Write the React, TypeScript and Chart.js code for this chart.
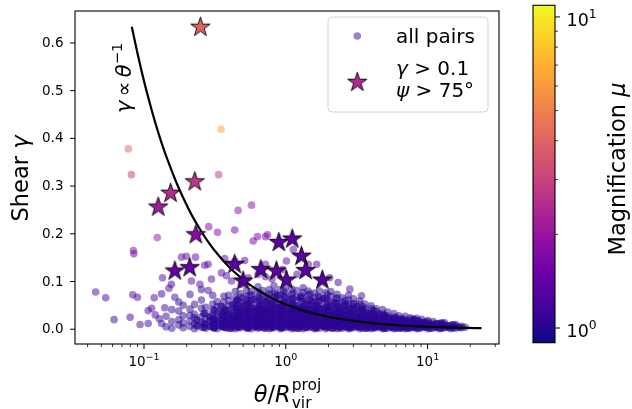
import React, { useEffect, useRef } from 'react';
import { Chart, registerables } from 'chart.js';

Chart.register(...registerables);

// ---------------- axis ranges & ticks ----------------
const X_MIN = 0.0326;
const X_MAX = 31.9;
const Y_MIN = -0.031;
const Y_MAX = 0.667;
const X_MAJOR = [0.1, 1, 10];
const X_MAJOR_EXP = ['−1', '0', '1'];
const X_MINOR = [0.04, 0.05, 0.06, 0.07, 0.08, 0.09, 0.2, 0.3, 0.4, 0.5, 0.6, 0.7, 0.8, 0.9, 2, 3, 4, 5, 6, 7, 8, 9, 20, 30];
const Y_TICKS = [0, 0.1, 0.2, 0.3, 0.4, 0.5, 0.6];
const Y_TICK_LABELS = ['0.0', '0.1', '0.2', '0.3', '0.4', '0.5', '0.6'];
const MU_MIN = 0.897;
const MU_MAX = 10.9;
const CB_MAJOR = [1, 10];
const CB_MAJOR_EXP = ['0', '1'];
const CB_MINOR = [2, 3, 4, 5, 6, 7, 8, 9];

// ---------------- data ----------------
// selected pairs (stars): theta/Rvir, shear, magnification
const STAR_THETA = [0.25, 0.126, 0.154, 0.228, 0.232, 0.165, 0.21, 0.436, 0.5, 0.667, 0.859, 0.893, 1.11, 1.01, 1.29, 1.38, 1.81];
const STAR_SHEAR = [0.633, 0.256, 0.285, 0.309, 0.198, 0.122, 0.129, 0.136, 0.101, 0.125, 0.122, 0.182, 0.189, 0.103, 0.153, 0.123, 0.103];
const STAR_MU = [4.0, 2.15, 2.45, 2.75, 1.8, 1.45, 1.45, 1.35, 1.3, 1.35, 1.35, 1.35, 1.35, 1.3, 1.35, 1.35, 1.3];

// gamma ∝ theta^-1 guide line
const LINE_THETA = [0.082, 0.09, 0.1, 0.11, 0.12, 0.135, 0.15, 0.17, 0.19, 0.22, 0.25, 0.29, 0.34, 0.4, 0.47, 0.55, 0.65, 0.78, 0.93, 1.1, 1.35, 1.65, 2.0, 2.5, 3.2, 4.2, 5.5, 7.5, 10, 14, 19, 24];
const LINE_SHEAR = [0.634, 0.578, 0.52, 0.473, 0.433, 0.385, 0.347, 0.306, 0.274, 0.236, 0.208, 0.179, 0.153, 0.13, 0.111, 0.0945, 0.08, 0.0667, 0.0559, 0.0473, 0.0385, 0.0315, 0.026, 0.0208, 0.0163, 0.0124, 0.0095, 0.0069, 0.0052, 0.0037, 0.0027, 0.0022];

// dense cloud of all pairs (columns in theta, shear values per column)
const CLOUD_MU = 1.04;
const CLOUD_THETA = [0.143, 0.157, 0.176, 0.189, 0.211, 0.227, 0.254, 0.272, 0.305, 0.328, 0.366, 0.395, 0.44, 0.476, 0.529, 0.571, 0.636, 0.688, 0.764, 0.826, 0.918, 0.994, 1.103, 1.195, 1.326, 1.437, 1.594, 1.729, 1.916, 2.079, 2.303, 2.5, 2.768, 3.005, 3.328, 3.613, 4.001, 4.343, 4.81, 5.222, 5.783, 6.279, 6.952, 7.548, 8.36, 9.074, 10.05, 10.91, 12.08, 13.11, 14.52, 15.77, 17.4, 18.4];
const CLOUD_SHEAR = [
  [0.005, 0.027],
  [0.002, 0.016, 0.041],
  [0.009, 0.02, 0.038, 0.057],
  [0.003, 0.013, 0.028, 0.05],
  [0.006, 0.017, 0.029, 0.042, 0.073],
  [0.001, 0.011, 0.024, 0.031, 0.052],
  [0.004, 0.015, 0.026, 0.044, 0.061, 0.083],
  [0.002, 0.009, 0.021, 0.033, 0.046],
  [0.005, 0.012, 0.023, 0.029, 0.041, 0.053, 0.071],
  [0.001, 0.008, 0.017, 0.026, 0.035, 0.047, 0.058],
  [0.004, 0.011, 0.017, 0.028, 0.037, 0.044, 0.057, 0.069],
  [0.002, 0.007, 0.015, 0.023, 0.031, 0.039, 0.049, 0.06, 0.071],
  [0.001, 0.008, 0.013, 0.022, 0.028, 0.038, 0.046, 0.053, 0.065, 0.079],
  [0.003, 0.01, 0.016, 0.024, 0.031, 0.037, 0.047, 0.057, 0.067, 0.075],
  [0.002, 0.006, 0.014, 0.019, 0.028, 0.035, 0.041, 0.051, 0.061, 0.069, 0.081],
  [0.001, 0.009, 0.015, 0.023, 0.03, 0.037, 0.045, 0.053, 0.06, 0.072, 0.079],
  [0.002, 0.006, 0.013, 0.018, 0.027, 0.033, 0.042, 0.048, 0.059, 0.066, 0.078, 0.089],
  [0.004, 0.009, 0.016, 0.023, 0.028, 0.037, 0.043, 0.053, 0.061, 0.069, 0.081],
  [0.001, 0.007, 0.012, 0.019, 0.025, 0.031, 0.04, 0.046, 0.056, 0.063, 0.074, 0.083],
  [0.003, 0.008, 0.015, 0.021, 0.029, 0.035, 0.043, 0.051, 0.057, 0.068, 0.077, 0.091],
  [0.001, 0.005, 0.013, 0.018, 0.025, 0.032, 0.037, 0.047, 0.053, 0.064, 0.071, 0.083],
  [0.003, 0.009, 0.014, 0.021, 0.026, 0.035, 0.04, 0.05, 0.056, 0.067, 0.075, 0.088],
  [0.001, 0.006, 0.011, 0.019, 0.024, 0.033, 0.038, 0.048, 0.054, 0.065, 0.072, 0.084],
  [0.002, 0.008, 0.015, 0.02, 0.028, 0.034, 0.043, 0.049, 0.06, 0.067, 0.081],
  [0.001, 0.005, 0.012, 0.017, 0.026, 0.031, 0.041, 0.047, 0.058, 0.065, 0.077, 0.087],
  [0.003, 0.008, 0.014, 0.022, 0.027, 0.036, 0.042, 0.052, 0.059, 0.071, 0.08],
  [0.001, 0.007, 0.011, 0.019, 0.024, 0.033, 0.039, 0.049, 0.056, 0.067, 0.076],
  [0.002, 0.009, 0.013, 0.021, 0.028, 0.033, 0.043, 0.049, 0.06, 0.067, 0.08],
  [0.001, 0.005, 0.012, 0.017, 0.026, 0.031, 0.041, 0.047, 0.057, 0.065, 0.077],
  [0.003, 0.008, 0.015, 0.019, 0.028, 0.035, 0.04, 0.05, 0.057, 0.069, 0.079],
  [0.001, 0.006, 0.011, 0.019, 0.023, 0.032, 0.037, 0.047, 0.054, 0.065, 0.073],
  [0.002, 0.008, 0.012, 0.02, 0.025, 0.034, 0.039, 0.049, 0.056, 0.066],
  [0.001, 0.005, 0.013, 0.017, 0.025, 0.029, 0.038, 0.044, 0.054, 0.061, 0.071],
  [0.003, 0.007, 0.011, 0.019, 0.023, 0.032, 0.037, 0.047, 0.054, 0.064],
  [0.001, 0.006, 0.01, 0.016, 0.024, 0.028, 0.037, 0.042, 0.052, 0.059],
  [0.002, 0.008, 0.013, 0.017, 0.025, 0.029, 0.038, 0.044, 0.053],
  [0.001, 0.005, 0.01, 0.017, 0.021, 0.029, 0.034, 0.043, 0.049],
  [0.003, 0.007, 0.013, 0.016, 0.024, 0.028, 0.037, 0.043],
  [0.001, 0.005, 0.01, 0.017, 0.02, 0.028, 0.032, 0.041],
  [0.002, 0.007, 0.012, 0.015, 0.023, 0.027, 0.036],
  [0.001, 0.004, 0.011, 0.014, 0.021, 0.025, 0.033],
  [0.003, 0.007, 0.01, 0.017, 0.02, 0.028],
  [0.001, 0.005, 0.009, 0.016, 0.019, 0.027],
  [0.002, 0.007, 0.011, 0.014, 0.021, 0.024],
  [0.001, 0.004, 0.01, 0.013, 0.018, 0.023],
  [0.003, 0.006, 0.011, 0.014, 0.021],
  [0.001, 0.005, 0.008, 0.015, 0.018],
  [0.002, 0.007, 0.01, 0.016],
  [0.001, 0.004, 0.009, 0.012],
  [0.003, 0.006, 0.011, 0.014],
  [0.001, 0.005, 0.008],
  [0.002, 0.007, 0.01],
  [0.003, 0.006],
  [0.004],
];

// denser core (interleaved columns)
const CORE_THETA = [0.236, 0.265, 0.291, 0.314, 0.35, 0.377, 0.42, 0.455, 0.505, 0.546, 0.607, 0.657, 0.728, 0.789, 0.876, 0.95, 1.053, 1.142, 1.266, 1.372, 1.522, 1.651, 1.831, 1.985, 2.199, 2.387, 2.642, 2.871, 3.176, 3.45, 3.82, 4.15, 4.59, 4.99, 5.52, 6.0, 6.63, 7.21, 7.97, 8.67, 9.58, 10.43, 11.52, 12.53, 13.85, 15.07, 16.7];
const CORE_SHEAR = [
  [0.007, 0.019],
  [0.004, 0.012, 0.033],
  [0.006, 0.018, 0.026],
  [0.003, 0.015, 0.022, 0.039],
  [0.006, 0.011, 0.021, 0.034, 0.048],
  [0.003, 0.014, 0.019, 0.03, 0.04],
  [0.005, 0.01, 0.02, 0.027, 0.036, 0.051],
  [0.004, 0.012, 0.02, 0.025, 0.034, 0.043, 0.061],
  [0.006, 0.011, 0.02, 0.026, 0.036, 0.049],
  [0.003, 0.011, 0.018, 0.024, 0.033, 0.04, 0.055],
  [0.005, 0.01, 0.019, 0.025, 0.035, 0.044, 0.063],
  [0.004, 0.012, 0.017, 0.026, 0.031, 0.041, 0.05],
  [0.005, 0.01, 0.019, 0.024, 0.034, 0.042, 0.058],
  [0.003, 0.011, 0.016, 0.025, 0.031, 0.04, 0.052],
  [0.006, 0.01, 0.019, 0.027, 0.033, 0.045, 0.07],
  [0.004, 0.012, 0.016, 0.023, 0.032, 0.039, 0.054],
  [0.005, 0.01, 0.019, 0.026, 0.034, 0.044, 0.061],
  [0.003, 0.011, 0.016, 0.025, 0.031, 0.042, 0.05],
  [0.006, 0.01, 0.019, 0.024, 0.034, 0.045, 0.067],
  [0.004, 0.012, 0.016, 0.025, 0.031, 0.04, 0.053],
  [0.005, 0.01, 0.019, 0.026, 0.034, 0.044, 0.059],
  [0.003, 0.011, 0.016, 0.023, 0.032, 0.039, 0.051],
  [0.006, 0.01, 0.019, 0.024, 0.034, 0.043, 0.064],
  [0.004, 0.009, 0.017, 0.022, 0.029, 0.039, 0.047],
  [0.005, 0.011, 0.016, 0.025, 0.031, 0.042, 0.055],
  [0.003, 0.009, 0.017, 0.021, 0.03, 0.036, 0.045],
  [0.005, 0.008, 0.016, 0.022, 0.027, 0.037, 0.051],
  [0.003, 0.01, 0.014, 0.02, 0.028, 0.033, 0.042],
  [0.005, 0.008, 0.015, 0.021, 0.025, 0.034, 0.047],
  [0.003, 0.01, 0.013, 0.019, 0.027, 0.032, 0.041],
  [0.005, 0.008, 0.015, 0.018, 0.026, 0.033],
  [0.003, 0.01, 0.013, 0.02, 0.024, 0.031, 0.039],
  [0.005, 0.007, 0.014, 0.019, 0.025, 0.031],
  [0.002, 0.009, 0.012, 0.018, 0.024, 0.029],
  [0.004, 0.008, 0.014, 0.019, 0.023],
  [0.002, 0.009, 0.013, 0.016, 0.024],
  [0.004, 0.007, 0.012, 0.018, 0.022],
  [0.002, 0.008, 0.013, 0.016],
  [0.004, 0.006, 0.012, 0.018, 0.021],
  [0.002, 0.008, 0.011, 0.017],
  [0.004, 0.006, 0.012, 0.015],
  [0.002, 0.008, 0.011],
  [0.004, 0.006, 0.012],
  [0.002, 0.009, 0.013],
  [0.004, 0.007],
  [0.003, 0.009],
  [0.004],
];

// darkest base layer close to zero shear
const BASE_THETA = [0.31, 0.36, 0.41, 0.47, 0.54, 0.62, 0.71, 0.81, 0.93, 1.07, 1.23, 1.41, 1.62, 1.86, 2.14, 2.45, 2.82, 3.24, 3.72, 4.27, 4.9, 5.6, 6.45, 7.4];
const BASE_SHEAR = [
  [0.003, 0.014],
  [0.006, 0.02, 0.03],
  [0.002, 0.012, 0.025],
  [0.005, 0.017, 0.028, 0.036],
  [0.003, 0.01, 0.022, 0.033],
  [0.006, 0.015, 0.026, 0.038],
  [0.002, 0.012, 0.021, 0.031, 0.042],
  [0.005, 0.016, 0.027, 0.036],
  [0.003, 0.01, 0.021, 0.03, 0.044],
  [0.006, 0.015, 0.025, 0.036],
  [0.002, 0.012, 0.02, 0.031, 0.041],
  [0.005, 0.016, 0.026, 0.035],
  [0.003, 0.01, 0.021, 0.029, 0.04],
  [0.006, 0.014, 0.024, 0.033],
  [0.002, 0.011, 0.019, 0.029],
  [0.005, 0.015, 0.022, 0.031],
  [0.003, 0.01, 0.018, 0.027],
  [0.006, 0.013, 0.021],
  [0.002, 0.01, 0.017, 0.026],
  [0.005, 0.012, 0.019],
  [0.003, 0.009, 0.016],
  [0.005, 0.011, 0.017],
  [0.002, 0.008, 0.014],
  [0.004, 0.01],
];

// middle band of the cloud (shear 0.04-0.08)
const MID_THETA = [0.45, 0.5, 0.56, 0.66, 0.74, 0.84, 0.97, 1.12, 1.29, 1.48, 1.7, 1.96, 2.27, 2.6, 3.0, 3.5];
const MID_SHEAR = [
  [0.048, 0.06],
  [0.042, 0.055, 0.066],
  [0.045, 0.058, 0.07],
  [0.04, 0.052, 0.064, 0.075],
  [0.046, 0.058, 0.07],
  [0.04, 0.052, 0.063, 0.075],
  [0.045, 0.058, 0.07, 0.08],
  [0.041, 0.053, 0.064, 0.076],
  [0.046, 0.058, 0.07],
  [0.04, 0.051, 0.063, 0.074],
  [0.045, 0.057, 0.068],
  [0.04, 0.051, 0.062, 0.072],
  [0.043, 0.055, 0.065],
  [0.038, 0.049, 0.06],
  [0.042, 0.052],
  [0.037, 0.047],
];

// isolated pairs: [theta, shear, mu]
const SPARSE_PAIRS: [number, number, number][] = [
  [0.0456, 0.078, 1.2], [0.0537, 0.066, 1.2], [0.0615, 0.02, 1.15], [0.0798, 0.025, 1.15],
  [0.0832, 0.072, 1.2], [0.0898, 0.067, 1.2], [0.0842, 0.165, 1.7], [0.0848, 0.158, 1.5],
  [0.0938, 0.01, 1.15], [0.107, 0.012, 1.15], [0.107, 0.039, 1.2], [0.113, 0.044, 1.2],
  [0.118, 0.066, 1.2], [0.12, 0.03, 1.15], [0.128, 0.022, 1.15], [0.14, 0.045, 1.2],
  [0.124, 0.192, 1.9], [0.133, 0.074, 1.2], [0.133, 0.012, 1.1], [0.135, 0.108, 1.3],
  [0.15, 0.086, 1.2], [0.156, 0.094, 1.2], [0.165, 0.067, 1.2], [0.184, 0.151, 1.4],
  [0.199, 0.153, 1.4], [0.216, 0.101, 1.3], [0.231, 0.151, 1.4], [0.248, 0.094, 1.3],
  [0.268, 0.134, 1.4], [0.283, 0.136, 1.4], [0.284, 0.081, 1.25], [0.286, 0.215, 1.7],
  [0.299, 0.105, 1.3], [0.33, 0.203, 1.7], [0.352, 0.118, 1.3], [0.371, 0.148, 1.4],
  [0.381, 0.112, 1.3], [0.414, 0.101, 1.3], [0.437, 0.143, 1.4], [0.436, 0.208, 1.6],
  [0.461, 0.249, 1.8], [0.487, 0.094, 1.25], [0.513, 0.144, 1.4], [0.543, 0.108, 1.3],
  [0.573, 0.26, 1.8], [0.589, 0.185, 1.6], [0.631, 0.194, 1.6], [0.639, 0.115, 1.3],
  [0.72, 0.136, 1.3], [0.72, 0.11, 1.3], [0.72, 0.194, 1.6], [0.743, 0.198, 1.6],
  [0.8, 0.105, 1.3], [0.95, 0.125, 1.3], [1.01, 0.143, 1.3], [1.13, 0.167, 1.4],
  [1.2, 0.115, 1.3], [1.44, 0.136, 1.3], [1.65, 0.136, 1.3], [2.04, 0.108, 1.3],
  [2.34, 0.098, 1.2], [2.83, 0.084, 1.2], [3.42, 0.07, 1.2],
  [0.0776, 0.378, 4.0], [0.0815, 0.324, 2.8], [0.35, 0.419, 6.3], [0.336, 0.324, 2.6],
];

// marker opacity per layer
const ALPHA_OUTER = 0.5;
const ALPHA_INNER = 0.72;

// ---------------- colour map ----------------
const PLASMA = ['#0d0887', '#41049d', '#6a00a8', '#8f0da4', '#b12a90', '#cc4778', '#e16462', '#f2844b', '#fca636', '#fcce25', '#f0f921'];

function hexRGB(h: string) {
  return [parseInt(h.slice(1, 3), 16), parseInt(h.slice(3, 5), 16), parseInt(h.slice(5, 7), 16)];
}
function plasma(t: number, alpha = 1) {
  const tt = Math.max(0, Math.min(1, t)) * (PLASMA.length - 1);
  const i = Math.min(PLASMA.length - 2, Math.floor(tt));
  const f = tt - i;
  const a = hexRGB(PLASMA[i]);
  const b = hexRGB(PLASMA[i + 1]);
  const c = a.map((v, k) => Math.round(v + (b[k] - v) * f));
  return `rgba(${c[0]},${c[1]},${c[2]},${alpha})`;
}
function muColor(mu: number, alpha = 1) {
  const t = (Math.log10(mu) - Math.log10(MU_MIN)) / (Math.log10(MU_MAX) - Math.log10(MU_MIN));
  return plasma(t, alpha);
}

function makeStar(fill: string, R = 10.2) {
  const size = Math.ceil(R * 2 + 4);
  const c = document.createElement('canvas');
  c.width = size;
  c.height = size;
  const g = c.getContext('2d')!;
  const cx = size / 2;
  const cy = size / 2;
  g.beginPath();
  for (let i = 0; i < 10; i++) {
    const r = i % 2 === 0 ? R : R * 0.381966;
    const a = -Math.PI / 2 + (i * Math.PI) / 5;
    const px = cx + r * Math.cos(a);
    const py = cy + r * Math.sin(a);
    if (i === 0) g.moveTo(px, py);
    else g.lineTo(px, py);
  }
  g.closePath();
  g.fillStyle = fill;
  g.fill();
  g.lineWidth = 0.9;
  g.strokeStyle = '#000';
  g.stroke();
  return c;
}

// ---------------- text helpers ----------------
type Part = { t: string; size: number; italic?: boolean; dy?: number };
const FAMILY = "'DejaVu Sans', sans-serif";
function fontOf(p: Part) {
  return `${p.italic ? 'italic ' : ''}${p.size}px ${FAMILY}`;
}
function partsWidth(ctx: CanvasRenderingContext2D, parts: Part[]) {
  let w = 0;
  for (const p of parts) {
    ctx.font = fontOf(p);
    w += ctx.measureText(p.t).width;
  }
  return w;
}
function drawParts(ctx: CanvasRenderingContext2D, parts: Part[], x: number, y: number) {
  let cx = x;
  for (const p of parts) {
    ctx.font = fontOf(p);
    ctx.fillText(p.t, cx, y + (p.dy || 0));
    cx += ctx.measureText(p.t).width;
  }
  return cx;
}

export default function App() {
  const mainRef = useRef<HTMLCanvasElement>(null);
  const cbRef = useRef<HTMLCanvasElement>(null);

  useEffect(() => {
    const dots: { x: number; y: number }[] = [];
    const dotColors: string[] = [];
    const addColumns = (thetas: number[], shears: number[][], alpha: number) => {
      thetas.forEach((t, i) => {
        shears[i].forEach((g) => {
          dots.push({ x: t, y: g });
          dotColors.push(muColor(CLOUD_MU, alpha));
        });
      });
    };
    addColumns(CLOUD_THETA, CLOUD_SHEAR, ALPHA_OUTER);
    addColumns(CORE_THETA, CORE_SHEAR, ALPHA_INNER);
    addColumns(BASE_THETA, BASE_SHEAR, ALPHA_INNER);
    addColumns(MID_THETA, MID_SHEAR, ALPHA_OUTER);
    SPARSE_PAIRS.forEach(([t, g, mu]) => {
      dots.push({ x: t, y: g });
      dotColors.push(muColor(mu, ALPHA_OUTER));
    });

    const starImgs = STAR_MU.map((mu) => makeStar(muColor(mu, 1)));
    const legendStar = makeStar(plasma(0.4, 1));

    const mainPlugin = {
      id: 'mainDecor',
      afterDraw(chart: any) {
        const ctx: CanvasRenderingContext2D = chart.ctx;
        const a = chart.chartArea;
        const xs = chart.scales.x;
        const ys = chart.scales.y;
        ctx.save();
        ctx.fillStyle = '#000';
        ctx.strokeStyle = '#000';
        // frame
        ctx.lineWidth = 1.1;
        ctx.strokeRect(a.left, a.top, a.right - a.left, a.bottom - a.top);
        // x ticks
        ctx.lineWidth = 1;
        X_MAJOR.forEach((v) => {
          const px = xs.getPixelForValue(v);
          ctx.beginPath();
          ctx.moveTo(px, a.bottom);
          ctx.lineTo(px, a.bottom + 5);
          ctx.stroke();
        });
        ctx.lineWidth = 0.8;
        X_MINOR.forEach((v) => {
          const px = xs.getPixelForValue(v);
          ctx.beginPath();
          ctx.moveTo(px, a.bottom);
          ctx.lineTo(px, a.bottom + 3);
          ctx.stroke();
        });
        // x tick labels
        ctx.textBaseline = 'alphabetic';
        ctx.textAlign = 'left';
        X_MAJOR.forEach((v, i) => {
          const px = xs.getPixelForValue(v);
          const parts: Part[] = [
            { t: '10', size: 13.5 },
            { t: X_MAJOR_EXP[i], size: 9.5, dy: -6.5 },
          ];
          const w = partsWidth(ctx, parts);
          drawParts(ctx, parts, px - w / 2, a.bottom + 22);
        });
        // y ticks
        ctx.lineWidth = 1;
        Y_TICKS.forEach((v, i) => {
          const py = ys.getPixelForValue(v);
          ctx.beginPath();
          ctx.moveTo(a.left, py);
          ctx.lineTo(a.left - 5, py);
          ctx.stroke();
          ctx.font = `13.5px ${FAMILY}`;
          ctx.textAlign = 'right';
          ctx.textBaseline = 'middle';
          ctx.fillText(Y_TICK_LABELS[i], a.left - 11.5, py + 0.5);
        });
        ctx.textAlign = 'left';
        ctx.textBaseline = 'alphabetic';

        // y axis title
        {
          const parts: Part[] = [
            { t: 'Shear ', size: 22.5 },
            { t: 'γ', size: 22.5, italic: true },
          ];
          const w = partsWidth(ctx, parts);
          ctx.save();
          ctx.translate(28, (a.top + a.bottom) / 2 + 1);
          ctx.rotate(-Math.PI / 2);
          drawParts(ctx, parts, -w / 2, 0);
          ctx.restore();
        }
        // x axis title θ/R_vir^proj
        {
          const main: Part[] = [
            { t: 'θ', size: 22.5, italic: true },
            { t: '/', size: 22.5 },
            { t: 'R', size: 22.5, italic: true },
          ];
          const sup: Part = { t: 'proj', size: 15.5 };
          const sub: Part = { t: 'vir', size: 15.5 };
          const wm = partsWidth(ctx, main);
          const ws = Math.max(partsWidth(ctx, [sup]), partsWidth(ctx, [sub]));
          const cx = (a.left + a.right) / 2;
          const x0 = cx - (wm + ws) / 2;
          const base = 402;
          const xe = drawParts(ctx, main, x0, base);
          ctx.font = fontOf(sup);
          ctx.fillText(sup.t, xe + 1, base - 12);
          ctx.font = fontOf(sub);
          ctx.fillText(sub.t, xe + 1, base + 6);
        }
        // rotated annotation γ ∝ θ^-1
        {
          const parts: Part[] = [
            { t: 'γ', size: 21, italic: true },
            { t: '\u2009∝\u2009', size: 21 },
            { t: 'θ', size: 21, italic: true },
            { t: '−1', size: 14.7, dy: -9 },
          ];
          ctx.save();
          ctx.translate(131, 113);
          ctx.rotate(-Math.PI / 2);
          drawParts(ctx, parts, 0, 0);
          ctx.restore();
        }
        // legend
        {
          const lx = 328, ly = 17, lw = 160, lh = 95, r = 4;
          ctx.beginPath();
          ctx.moveTo(lx + r, ly);
          ctx.lineTo(lx + lw - r, ly);
          ctx.quadraticCurveTo(lx + lw, ly, lx + lw, ly + r);
          ctx.lineTo(lx + lw, ly + lh - r);
          ctx.quadraticCurveTo(lx + lw, ly + lh, lx + lw - r, ly + lh);
          ctx.lineTo(lx + r, ly + lh);
          ctx.quadraticCurveTo(lx, ly + lh, lx, ly + lh - r);
          ctx.lineTo(lx, ly + r);
          ctx.quadraticCurveTo(lx, ly, lx + r, ly);
          ctx.closePath();
          ctx.fillStyle = 'rgba(255,255,255,0.8)';
          ctx.fill();
          ctx.strokeStyle = '#d4d4d4';
          ctx.lineWidth = 1;
          ctx.stroke();
          // dot
          ctx.beginPath();
          ctx.arc(357.3, 36, 3.8, 0, Math.PI * 2);
          ctx.fillStyle = muColor(1.12, 0.5);
          ctx.fill();
          ctx.fillStyle = '#000';
          ctx.font = `20px ${FAMILY}`;
          ctx.fillText('all pairs', 396, 42.5);
          // star
          ctx.drawImage(legendStar, 357.3 - legendStar.width / 2, 82.3 - legendStar.height / 2);
          drawParts(ctx, [
            { t: 'γ', size: 20, italic: true },
            { t: ' > 0.1', size: 20 },
          ], 396, 74.5);
          drawParts(ctx, [
            { t: 'ψ', size: 20, italic: true },
            { t: ' > 75°', size: 20 },
          ], 396, 97);
        }
        ctx.restore();
      },
    };

    const main = new Chart(mainRef.current!, {
      type: 'scatter',
      data: {
        datasets: [
          {
            label: 'stars',
            data: STAR_THETA.map((t, i) => ({ x: t, y: STAR_SHEAR[i] })),
            pointStyle: starImgs as any,
            pointRadius: 10,
            order: 0,
          } as any,
          {
            type: 'line',
            label: 'guide',
            data: LINE_THETA.map((t, i) => ({ x: t, y: LINE_SHEAR[i] })),
            borderColor: '#000',
            borderWidth: 2.2,
            pointRadius: 0,
            showLine: true,
            fill: false,
            cubicInterpolationMode: 'monotone',
            order: 1,
          } as any,
          {
            label: 'all pairs',
            data: dots,
            backgroundColor: dotColors,
            borderWidth: 0,
            pointRadius: 3.8,
            order: 2,
          } as any,
        ],
      },
      options: {
        animation: false,
        responsive: false,
        devicePixelRatio: 1,
        events: [],
        layout: { padding: { left: 75, right: 133, top: 6, bottom: 65 } },
        plugins: { legend: { display: false }, tooltip: { enabled: false } },
        scales: {
          x: {
            type: 'logarithmic',
            min: X_MIN,
            max: X_MAX,
            bounds: 'data',
            ticks: { display: false },
            grid: { display: false, drawTicks: false },
            border: { display: false },
            afterFit: (s: any) => {
              s.height = 0;
            },
          },
          y: {
            type: 'linear',
            min: Y_MIN,
            max: Y_MAX,
            bounds: 'data',
            ticks: { display: false },
            grid: { display: false, drawTicks: false },
            border: { display: false },
            afterFit: (s: any) => {
              s.width = 0;
            },
          },
        },
      } as any,
      plugins: [mainPlugin],
    });

    const cbPlugin = {
      id: 'cbDecor',
      afterDraw(chart: any) {
        const ctx: CanvasRenderingContext2D = chart.ctx;
        const a = chart.chartArea;
        const ys = chart.scales.y;
        ctx.save();
        ctx.strokeStyle = '#000';
        ctx.fillStyle = '#000';
        ctx.lineWidth = 1.1;
        ctx.strokeRect(a.left, a.top, a.right - a.left, a.bottom - a.top);
        ctx.lineWidth = 1;
        CB_MAJOR.forEach((v, i) => {
          const py = ys.getPixelForValue(v);
          ctx.beginPath();
          ctx.moveTo(a.right, py);
          ctx.lineTo(a.right + 5, py);
          ctx.stroke();
          drawParts(ctx, [
            { t: '10', size: 17.5 },
            { t: CB_MAJOR_EXP[i], size: 12.3, dy: -8 },
          ], a.right + 11.5, py + 9.4);
        });
        ctx.lineWidth = 0.8;
        CB_MINOR.forEach((v) => {
          const py = ys.getPixelForValue(v);
          ctx.beginPath();
          ctx.moveTo(a.right, py);
          ctx.lineTo(a.right + 3, py);
          ctx.stroke();
        });
        const parts: Part[] = [
          { t: 'Magnification ', size: 22.5 },
          { t: 'μ', size: 22.5, italic: true },
        ];
        const w = partsWidth(ctx, parts);
        ctx.translate(625, 169);
        ctx.rotate(-Math.PI / 2);
        drawParts(ctx, parts, -w / 2, 0);
        ctx.restore();
      },
    };

    const cb = new Chart(cbRef.current!, {
      type: 'bar',
      data: {
        labels: ['μ'],
        datasets: [
          {
            data: [[MU_MIN, MU_MAX]] as any,
            backgroundColor: (c: any) => {
              const area = c.chart.chartArea;
              if (!area) return 'rgba(0,0,0,0)';
              const g = c.chart.ctx.createLinearGradient(0, area.bottom, 0, area.top);
              PLASMA.forEach((col, i) => g.addColorStop(i / (PLASMA.length - 1), col));
              return g;
            },
            borderWidth: 0,
            barPercentage: 1,
            categoryPercentage: 1,
          } as any,
        ],
      },
      options: {
        animation: false,
        responsive: false,
        devicePixelRatio: 1,
        events: [],
        layout: { padding: { left: 533, right: 77, top: 5.3, bottom: 66.3 } },
        plugins: { legend: { display: false }, tooltip: { enabled: false } },
        scales: {
          x: {
            type: 'category',
            display: true,
            ticks: { display: false },
            grid: { display: false, drawTicks: false },
            border: { display: false },
            afterFit: (s: any) => {
              s.height = 0;
            },
          },
          y: {
            type: 'logarithmic',
            position: 'right',
            min: MU_MIN,
            max: MU_MAX,
            bounds: 'data',
            ticks: { display: false },
            grid: { display: false, drawTicks: false },
            border: { display: false },
            afterFit: (s: any) => {
              s.width = 0;
            },
          },
        },
      } as any,
      plugins: [cbPlugin],
    });

    return () => {
      main.destroy();
      cb.destroy();
    };
  }, []);

  return (
    <div style={{ position: 'fixed', left: 0, top: 0, width: 632, height: 409, background: '#fff' }}>
      <canvas ref={mainRef} width={632} height={409} style={{ position: 'absolute', left: 0, top: 0 }} />
      <canvas ref={cbRef} width={632} height={409} style={{ position: 'absolute', left: 0, top: 0, pointerEvents: 'none' }} />
    </div>
  );
}
